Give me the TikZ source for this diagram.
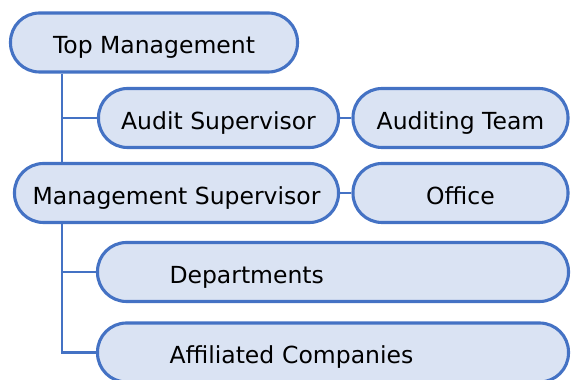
\documentclass[tikz,border=0pt]{standalone}
\usepackage{fontspec}
\setmainfont{DejaVu Sans}
\definecolor{bl}{HTML}{4472C4}
\definecolor{fl}{HTML}{DAE3F3}
\begin{document}
\begin{tikzpicture}[x=1pt,y=1pt,
  box/.style={draw=bl, fill=fl, line width=3.1pt, rounded corners=29pt,
    minimum height=59pt, inner sep=0pt, text height=27pt, text depth=4pt,
    font=\fontsize{23.5}{27}\selectfont},
  lbox/.style={box, text width=327pt, align=left, inner xsep=72pt},
  conn/.style={draw=bl, line width=2.8pt}]
\useasboundingbox (0,0) rectangle (571,380);
\clip (0,0) rectangle (571,380);
\coordinate (vx) at (62,0);
\node[box, minimum width=287pt] (top) at (154,337.5) {Top Management};
\node[box, minimum width=240pt] (as) at (218.5,262) {Audit Supervisor};
\node[box, minimum width=215pt] (at) at (460.5,262) {Auditing Team};
\node[box, minimum width=324pt] (ms) at (176.5,187) {Management Supervisor};
\node[box, minimum width=215pt] (of) at (460.5,187) {Office};
\node[lbox] (dp) at (333,108) {Departments};
\node[lbox] (ac) at (333,27.5) {Affiliated Companies};
\draw[conn] (top.south -| vx) -- (ms.north -| vx);
\draw[conn] (as.west -| vx) -- (as.west);
\draw[conn] (as.east) -- (at.west);
\draw[conn] (ms.east) -- (of.west);
\draw[conn] (ms.south -| vx) -- (ac.west -| vx) -- (ac.west);
\draw[conn] (dp.west -| vx) -- (dp.west);
\end{tikzpicture}
\end{document}
